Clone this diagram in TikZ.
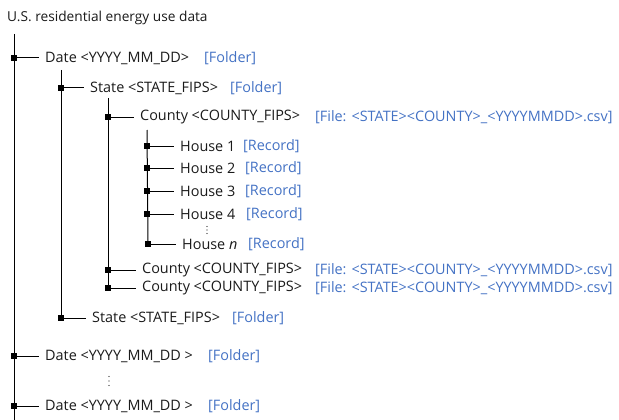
\documentclass[tikz,border=0pt]{standalone}
\usepackage{fontspec}
\setmainfont{Open Sans}
\definecolor{tagblue}{HTML}{4472C4}
\definecolor{txt}{HTML}{1A1A1A}
\begin{document}
\begin{tikzpicture}[x=1pt,y=-1pt,
  lbl/.style={anchor=west, inner sep=0pt, text=txt, font=\fontsize{14.4}{16}\selectfont},
  tag/.style={lbl, text=tagblue},
  sq/.style={fill=black, minimum size=5.5pt, inner sep=0pt},
  conn/.style={line width=1pt, shorten >=6pt},
  trunk/.style={line width=1pt},
  dot/.style={fill=txt, circle, inner sep=0pt, minimum size=1.4pt}]
\useasboundingbox (0,0) rectangle (619,420);
% title
\node[lbl, font=\fontsize{13.7}{15}\selectfont] (title) at (7,18) {U.S. residential energy use data};
% trunks
\coordinate (t0a) at (14,34); \coordinate (t0b) at (14,420);
\draw[trunk] (t0a) -- (t0b);
% Date 1
\node[sq] (s1) at (14,58) {};
\node[lbl] (d1) at (45,58) {Date <YYYY\_MM\_DD>};
\node[tag] (d1t) at (204,58) {[Folder]};
\draw[conn] (s1) -- (d1.west);
\coordinate (t1a) at (61,70); \coordinate (t1b) at (61,318);
\draw[trunk] (t1a) -- (t1b);
% State 1
\node[sq] (s2) at (61,88) {};
\node[lbl] (st1) at (90,88) {State <STATE\_FIPS>};
\node[tag] (st1t) at (230,88) {[Folder]};
\draw[conn] (s2) -- (st1.west);
\coordinate (t2a) at (108,98); \coordinate (t2b) at (108,288);
\draw[trunk] (t2a) -- (t2b);
% County 1
\node[sq] (s3) at (108,117) {};
\node[lbl] (c1) at (140,117) {County <COUNTY\_FIPS>};
\node[tag] (c1t) at (315,117) {[File: <STATE><COUNTY>\_<YYYYMMDD>.csv]};
\draw[conn] (s3) -- (c1.west);
\coordinate (t3a) at (147,130); \coordinate (t3b) at (148,244);
\draw[trunk] (t3a) -- (t3b);
% Houses
\node[sq] (h1s) at (147,146) {};
\node[lbl] (h1) at (180,146) {House 1};
\node[tag] (h1t) at (243,146) {[Record]};
\draw[conn] (h1s) -- (h1.west);
\node[sq] (h2s) at (147,168) {};
\node[lbl] (h2) at (180,168) {House 2};
\node[tag] (h2t) at (245,168) {[Record]};
\draw[conn] (h2s) -- (h2.west);
\node[sq] (h3s) at (147,191) {};
\node[lbl] (h3) at (180,191) {House 3};
\node[tag] (h3t) at (245,191) {[Record]};
\draw[conn] (h3s) -- (h3.west);
\node[sq] (h4s) at (147,214) {};
\node[lbl] (h4) at (180,214) {House 4};
\node[tag] (h4t) at (246,214) {[Record]};
\draw[conn] (h4s) -- (h4.west);
\node[dot] (hd1) at (207,226.5) {};
\node[dot] (hd2) at (207,230) {};
\node[dot] (hd3) at (207,233.5) {};
\node[sq] (h5s) at (148,244) {};
\node[lbl] (h5) at (182,244) {House \textit{n}};
\node[tag] (h5t) at (248,244) {[Record]};
\draw[conn] (h5s) -- (h5.west);
% County 2,3
\node[sq] (s4) at (108,270) {};
\node[lbl] (c2) at (142,270) {County <COUNTY\_FIPS>};
\node[tag] (c2t) at (315,270) {[File: <STATE><COUNTY>\_<YYYYMMDD>.csv]};
\draw[conn] (s4) -- (c2.west);
\node[sq] (s5) at (108,288) {};
\node[lbl] (c3) at (142,288) {County <COUNTY\_FIPS>};
\node[tag] (c3t) at (315,288) {[File: <STATE><COUNTY>\_<YYYYMMDD>.csv]};
\draw[conn] (s5) -- (c3.west);
% State 2
\node[sq] (s6) at (61,318) {};
\node[lbl] (st2) at (92,318) {State <STATE\_FIPS>};
\node[tag] (st2t) at (232,318) {[Folder]};
\draw[conn] (s6) -- (st2.west);
% Date 2
\node[sq] (s7) at (14,356) {};
\node[lbl] (d2) at (45,356) {Date <YYYY\_MM\_DD >};
\node[tag] (d2t) at (208,356) {[Folder]};
\draw[conn] (s7) -- (d2.west);
\node[dot] (dd1) at (109,376.5) {};
\node[dot] (dd2) at (109,381) {};
\node[dot] (dd3) at (109,385.5) {};
% Date 3
\node[sq] (s8) at (14,406) {};
\node[lbl] (d3) at (45,406) {Date <YYYY\_MM\_DD >};
\node[tag] (d3t) at (208,406) {[Folder]};
\draw[conn] (s8) -- (d3.west);
\end{tikzpicture}
\end{document}
